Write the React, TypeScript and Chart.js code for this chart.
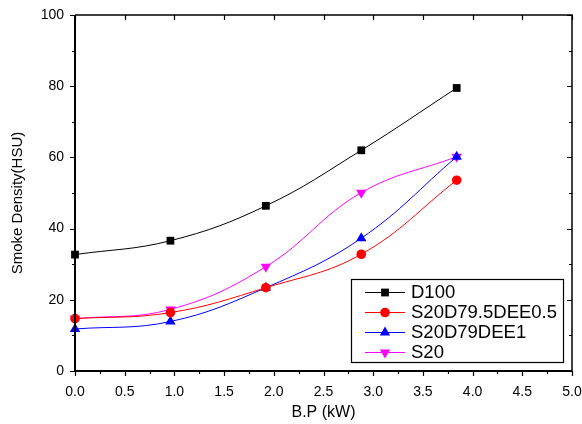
import React, { useEffect, useRef } from "react";
import { Chart, registerables } from "chart.js";

Chart.register(...registerables);

const xValues = [0.0, 0.96, 1.92, 2.88, 3.84];
const seriesLabels = ["D100", "S20D79.5DEE0.5", "S20D79DEE1", "S20"];
const d100 = [32.7, 36.6, 46.4, 62.0, 79.5];
const s20d795 = [14.7, 16.4, 23.4, 32.8, 53.6];
const s20d79 = [11.8, 13.9, 23.4, 37.3, 60.2];
const s20 = [14.7, 17.3, 29.3, 50.1, 60.2];
const xTicks = [0, 0.5, 1, 1.5, 2, 2.5, 3, 3.5, 4, 4.5, 5];
const yTicks = [0, 20, 40, 60, 80, 100];
const xTitle = "B.P (kW)";
const yTitle = "Smoke Density(HSU)";

const colors = ["#000000", "#ff0000", "#0000ff", "#ff00ff"];
const styles = ["rect", "circle", "triangle", "triangle"];
const rotations = [0, 0, 0, 180];
const radii = [5.5, 4.8, 6, 6];

const FONT = "'Liberation Sans', Arial, sans-serif";

function drawMarker(ctx: CanvasRenderingContext2D, style: string, rot: number, r: number, x: number, y: number, color: string) {
  ctx.save();
  ctx.fillStyle = color;
  ctx.beginPath();
  if (style === "rect") {
    const s = Math.SQRT1_2 * r;
    ctx.rect(x - s, y - s, 2 * s, 2 * s);
  } else if (style === "circle") {
    ctx.arc(x, y, r, 0, Math.PI * 2);
  } else {
    const dir = rot === 180 ? -1 : 1;
    const h = r * 1.5;
    const w = r * 0.866 * 2;
    ctx.moveTo(x, y - dir * (h * 2) / 3);
    ctx.lineTo(x - w / 2, y + dir * h / 3);
    ctx.lineTo(x + w / 2, y + dir * h / 3);
    ctx.closePath();
  }
  ctx.fill();
  ctx.restore();
}

const framePlugin = {
  id: "frame",
  afterDraw(chart: any) {
    const { ctx, chartArea, scales } = chart;
    const { left, right, top, bottom } = chartArea;
    const xs = scales.x;
    const ys = scales.y;
    ctx.save();
    ctx.strokeStyle = "#000";
    ctx.lineWidth = 1.2;
    ctx.beginPath();
    for (let v = 0; v <= 5.0001; v += 0.25) {
      const px = Math.round(xs.getPixelForValue(v)) + 0.5;
      const major = Math.abs(v * 2 - Math.round(v * 2)) < 1e-6;
      const len = major ? 5 : 3;
      ctx.moveTo(px, bottom);
      ctx.lineTo(px, bottom + len);
      if (major) {
        ctx.moveTo(px, top);
        ctx.lineTo(px, top + len);
      }
    }
    for (let v = 0; v <= 100.001; v += 10) {
      const py = Math.round(ys.getPixelForValue(v)) + 0.5;
      const major = v % 20 === 0;
      const len = major ? 5 : 3;
      ctx.moveTo(left, py);
      ctx.lineTo(left - len, py);
      ctx.moveTo(right, py);
      ctx.lineTo(right - len, py);
    }
    ctx.stroke();
    ctx.lineWidth = 1.5;
    ctx.beginPath();
    ctx.moveTo(left, top);
    ctx.lineTo(right, top);
    ctx.lineTo(right, bottom);
    ctx.stroke();
    ctx.lineWidth = 2;
    ctx.beginPath();
    ctx.moveTo(left, top);
    ctx.lineTo(left, bottom);
    ctx.lineTo(right, bottom);
    ctx.stroke();

    ctx.fillStyle = "#000";
    ctx.font = `16px ${FONT}`;
    ctx.textAlign = "center";
    ctx.textBaseline = "middle";
    ctx.fillText(xTitle, (left + right) / 2, 413);
    ctx.save();
    ctx.translate(18, 203);
    ctx.rotate(-Math.PI / 2);
    ctx.font = `15px ${FONT}`;
    ctx.fillText(yTitle, 0, 0);
    ctx.restore();

    const bx = 351, by = 279, bw = 212, bh = 83;
    ctx.fillStyle = "#fff";
    ctx.fillRect(bx, by, bw, bh);
    ctx.lineWidth = 1.2;
    ctx.strokeStyle = "#000";
    ctx.strokeRect(bx + 0.5, by + 0.5, bw, bh);
    ctx.font = `18.5px ${FONT}`;
    ctx.textAlign = "left";
    ctx.textBaseline = "middle";
    chart.data.datasets.forEach((ds: any, i: number) => {
      const y = 292 + i * 20;
      ctx.strokeStyle = colors[i];
      ctx.lineWidth = 1;
      ctx.beginPath();
      ctx.moveTo(365, y + 0.5);
      ctx.lineTo(405, y + 0.5);
      ctx.stroke();
      drawMarker(ctx, styles[i], rotations[i], radii[i], 385, y + 0.5, colors[i]);
      ctx.fillStyle = "#000";
      ctx.fillText(ds.label, 411, y + 1);
    });
    ctx.restore();
  },
};

export default function App() {
  const ref = useRef<HTMLCanvasElement | null>(null);
  useEffect(() => {
    document.body.style.margin = "0";
    const seriesData = [d100, s20d795, s20d79, s20];
    const chart = new Chart(ref.current as HTMLCanvasElement, {
      type: "line",
      data: {
        datasets: seriesData.map((vals, i) => ({
          label: seriesLabels[i],
          data: vals.map((v, j) => ({ x: xValues[j], y: v })),
          borderColor: colors[i],
          backgroundColor: colors[i],
          borderWidth: 1,
          pointStyle: styles[i] as any,
          rotation: rotations[i],
          pointRadius: radii[i],
          pointBorderWidth: 0,
          tension: 0.4,
          fill: false,
          clip: false as any,
        })),
      },
      options: {
        animation: false,
        responsive: false,
        layout: { padding: { top: 15, right: 10, left: 0, bottom: 0 } },
        plugins: { legend: { display: false }, tooltip: { enabled: false } },
        scales: {
          x: {
            type: "linear",
            min: 0,
            max: 5,
            afterBuildTicks: (s: any) => {
              s.ticks = xTicks.map((v) => ({ value: v }));
            },
            afterFit: (s: any) => {
              s.height = 53;
              s.paddingLeft = 0;
              s.paddingRight = 0;
              s.paddingTop = 0;
              s.paddingBottom = 0;
            },
            grid: { display: false, drawTicks: false },
            border: { display: false },
            ticks: {
              padding: 13,
              color: "#000",
              font: { family: FONT, size: 14 },
              maxRotation: 0,
              callback: (v: any) => Number(v).toFixed(1),
            },
          },
          y: {
            type: "linear",
            min: 0,
            max: 100,
            afterBuildTicks: (s: any) => {
              s.ticks = yTicks.map((v) => ({ value: v }));
            },
            afterFit: (s: any) => {
              s.width = 75;
              s.paddingLeft = 0;
              s.paddingRight = 0;
              s.paddingTop = 0;
              s.paddingBottom = 0;
            },
            grid: { display: false, drawTicks: false },
            border: { display: false },
            ticks: {
              padding: 11,
              color: "#000",
              font: { family: FONT, size: 14 },
              callback: (v: any) => String(v),
            },
          },
        },
      },
      plugins: [framePlugin],
    });
    return () => chart.destroy();
  }, []);
  return <canvas ref={ref} width={582} height={424} style={{ display: "block" }} />;
}
